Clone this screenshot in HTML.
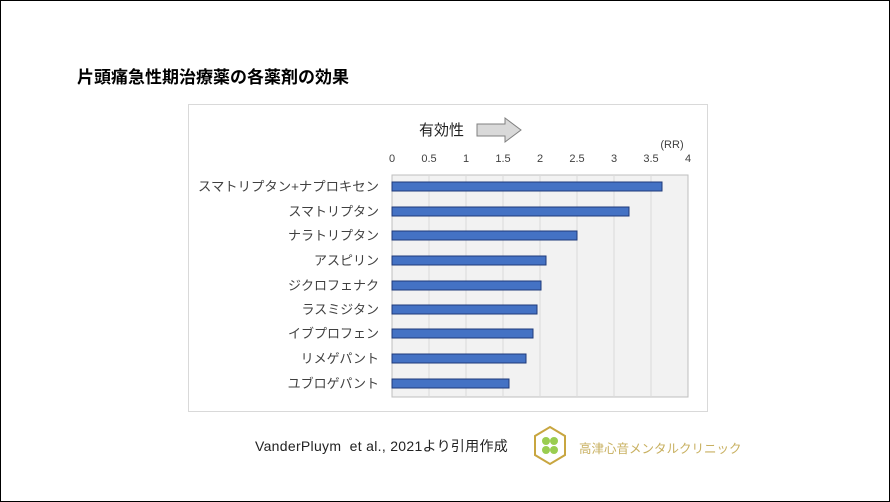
<!DOCTYPE html>
<html><head><meta charset="utf-8"><style>
body{margin:0;background:#fff;}
#p{position:relative;width:888px;height:500px;border:1px solid #000;overflow:hidden;font-family:"Liberation Sans","Noto Sans CJK JP",sans-serif;}
.t{position:absolute;white-space:nowrap;}
</style></head><body><div id="p">
<div class="t" style="left:76px;top:62px;font-size:17px;font-weight:bold;color:#000;">片頭痛急性期治療薬の各薬剤の効果</div>
<div style="position:absolute;left:187px;top:103px;width:518px;height:306px;border:1px solid #d9d9d9;"></div>
<svg style="position:absolute;left:0;top:0" width="890" height="502">
<rect x="391" y="174" width="296" height="222" fill="#f2f2f2" stroke="#bfbfbf"/>
<g stroke="#d9d9d9">
<line x1="428" y1="174" x2="428" y2="396"/><line x1="465" y1="174" x2="465" y2="396"/><line x1="502" y1="174" x2="502" y2="396"/><line x1="539" y1="174" x2="539" y2="396"/><line x1="576" y1="174" x2="576" y2="396"/><line x1="613" y1="174" x2="613" y2="396"/><line x1="650" y1="174" x2="650" y2="396"/>
</g>
<g fill="#4472c4" stroke="#1f3a7a" stroke-width="1">
<rect x="391" y="181" width="270" height="9"/>
<rect x="391" y="206" width="237" height="9"/>
<rect x="391" y="230" width="185" height="9"/>
<rect x="391" y="255" width="154" height="9"/>
<rect x="391" y="280" width="149" height="9"/>
<rect x="391" y="304" width="145" height="9"/>
<rect x="391" y="328" width="141" height="9"/>
<rect x="391" y="353" width="134" height="9"/>
<rect x="391" y="378" width="117" height="9"/>
</g>
<g font-size="11" fill="#404040" text-anchor="middle" font-family="Liberation Sans,sans-serif">
<text x="391" y="161">0</text><text x="428" y="161">0.5</text><text x="465" y="161">1</text><text x="502" y="161">1.5</text><text x="539" y="161">2</text><text x="576" y="161">2.5</text><text x="613" y="161">3</text><text x="650" y="161">3.5</text><text x="687" y="161">4</text>
<text x="671" y="147">(RR)</text>
</g>
<g font-size="13" fill="#404040" text-anchor="end" font-family="Liberation Sans,Noto Sans CJK JP,sans-serif">
<text x="378" y="190" textLength="181" lengthAdjust="spacingAndGlyphs">スマトリプタン+ナプロキセン</text>
<text x="378" y="215">スマトリプタン</text>
<text x="378" y="239">ナラトリプタン</text>
<text x="378" y="264">アスピリン</text>
<text x="378" y="289">ジクロフェナク</text>
<text x="378" y="313">ラスミジタン</text>
<text x="378" y="337">イブプロフェン</text>
<text x="378" y="362">リメゲパント</text>
<text x="378" y="387">ユブロゲパント</text>
</g>
<text x="418" y="134" font-size="15" fill="#222" font-family="Liberation Sans,Noto Sans CJK JP,sans-serif">有効性</text>
<polygon points="476,123 504,123 504,117 520,129 504,141 504,135 476,135" fill="#d9d9d9" stroke="#808080"/>
<polygon points="549,426 564,435 564,454 549,463 534,454 534,435" fill="none" stroke="#c8a640" stroke-width="2"/>
<circle cx="545" cy="440" r="4" fill="#9acd50"/><circle cx="553" cy="440" r="4" fill="#9acd50"/><circle cx="545" cy="449" r="4" fill="#9acd50"/><circle cx="553" cy="449" r="4" fill="#9acd50"/>
</svg>
<div class="t" style="left:254px;top:435px;font-size:14px;color:#222;letter-spacing:0.3px;">VanderPluym&nbsp; et al., 2021より引用作成</div>
<div class="t" style="left:578px;top:437px;font-size:12.5px;color:#c8b060;">高津心音メンタルクリニック</div>
</div></body></html>
